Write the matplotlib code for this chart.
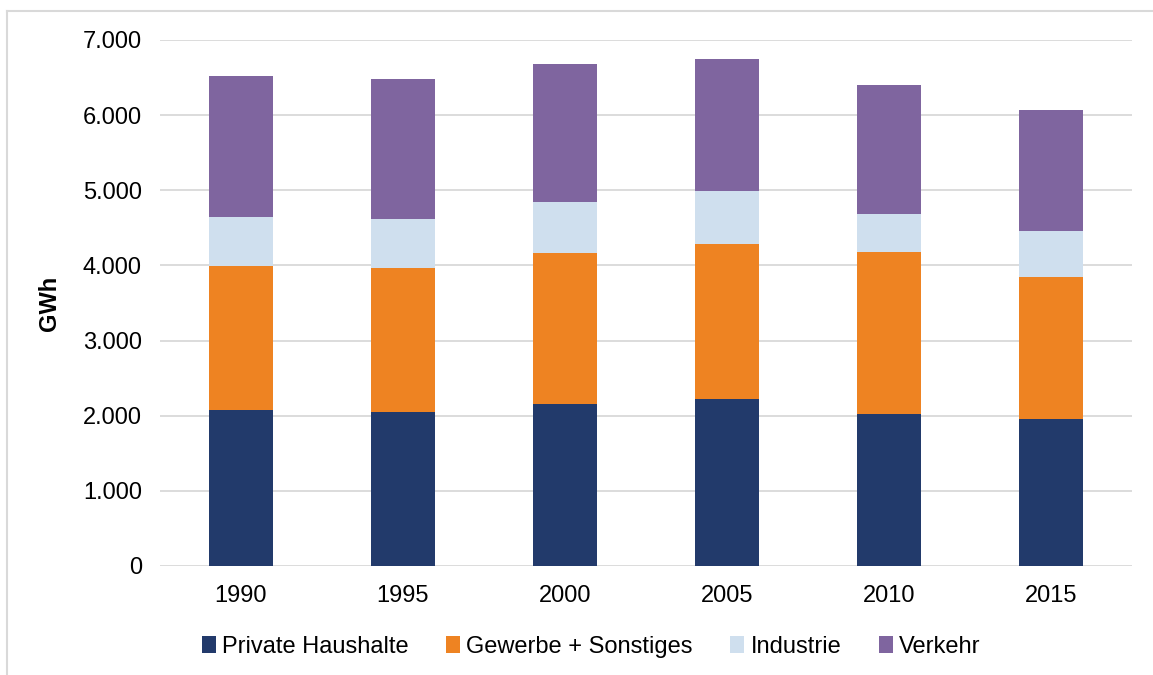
import numpy as np
import matplotlib.pyplot as plt
from matplotlib.lines import Line2D
from matplotlib.ticker import FuncFormatter

plt.rcParams['font.family'] = ['Liberation Sans', 'DejaVu Sans']

years = ['1990', '1995', '2000', '2005', '2010', '2015']
private = [2078, 2055, 2162, 2228, 2029, 1962]
gewerbe = [1920, 1916, 2000, 2058, 2151, 1881]
industrie = [652, 643, 678, 701, 505, 620]
verkehr = [1867, 1863, 1836, 1756, 1716, 1601]

series = [
    ('Private Haushalte', private, '#223a6b'),
    ('Gewerbe + Sonstiges', gewerbe, '#ee8322'),
    ('Industrie', industrie, '#cfdfee'),
    ('Verkehr', verkehr, '#7f659f'),
]

W, H = 1153, 675
fig = plt.figure(figsize=(W / 100, H / 100), dpi=100)
ax = fig.add_axes([160 / W, (H - 566) / H, 972 / W, 526 / H])

x = np.arange(len(years))
bottom = np.zeros(len(years))
for name, vals, col in series:
    ax.bar(x, vals, 0.4, bottom=bottom, color=col, label=name, zorder=3)
    bottom += np.array(vals)

ax.set_xlim(-0.5, len(years) - 0.5)
ax.set_ylim(0, 7000)
ax.set_yticks(range(0, 7001, 1000))
ax.yaxis.set_major_formatter(FuncFormatter(lambda v, p: f'{int(v):,}'.replace(',', '.')))
ax.set_xticks(x)
ax.set_xticklabels(years)
ax.grid(axis='y', color='#d9d9d9', linewidth=1.3, zorder=0)
for s in ax.spines.values():
    s.set_visible(False)
ax.tick_params(length=0, labelsize=17)
ax.tick_params(axis='y', pad=13)
ax.tick_params(axis='x', pad=14)
ax.set_ylabel('GWh', fontsize=17, fontweight='bold', labelpad=16)

# legend sits a bit left of the plot centre, like the original
ax.legend(loc='center', bbox_to_anchor=(591 / W, 28 / H), bbox_transform=fig.transFigure,
          ncol=4, frameon=False, fontsize=17, handlelength=0.6, handleheight=0.75,
          handletextpad=0.25, columnspacing=1.6)

# light frame around chart
fig.add_artist(Line2D([7 / W, 1], [1 - 11 / H, 1 - 11 / H], color='#d9d9d9', lw=1.5))
fig.add_artist(Line2D([7 / W, 7 / W], [0, 1 - 11 / H], color='#d9d9d9', lw=1.5))

fig.savefig('out.png', dpi=100)
